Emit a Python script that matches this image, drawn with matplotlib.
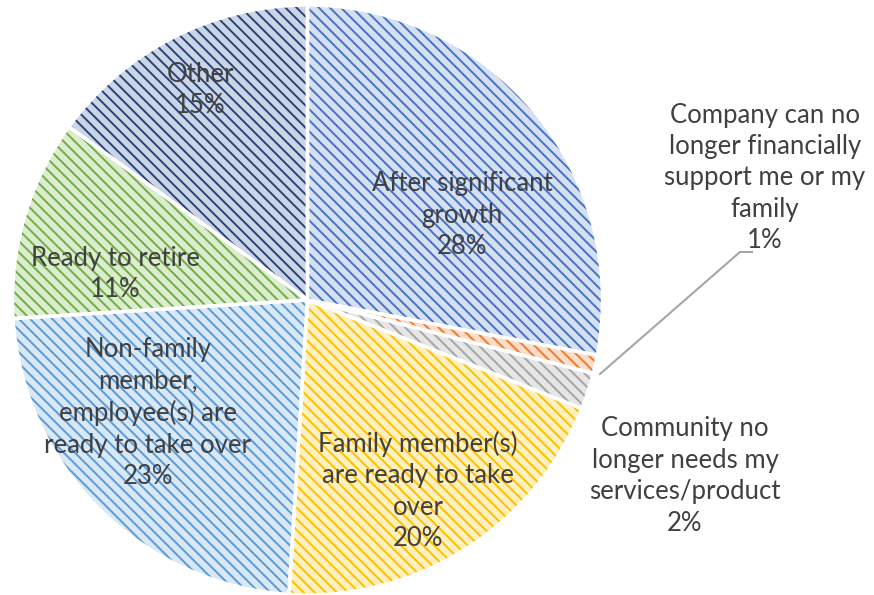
import matplotlib
matplotlib.use("Agg")
import matplotlib.pyplot as plt

# Reasons for planning an exit from the business
labels = [
    "After significant\ngrowth",
    "Company can no\nlonger financially\nsupport me or my\nfamily",
    "Community no\nlonger needs my\nservices/product",
    "Family member(s)\nare ready to take\nover",
    "Non-family\nmember,\nemployee(s) are\nready to take over",
    "Ready to retire",
    "Other",
]
shares = [28, 1, 2, 20, 23, 11, 15]

hatch_colors = ["#4472c4", "#ed7d31", "#a5a5a5", "#ffc000", "#5b9bd5", "#70ad47", "#264478"]
fill_colors = ["#d6e0f3", "#fbdcc8", "#e6e6e6", "#fff0c0", "#d8e8f6", "#dbeccf", "#ccd5e6"]

# label anchor points in figure pixels (x from left, y from top)
label_xy = [
    (462, 215),
    (765, 178),
    (685, 476),
    (418, 491),
    (148, 413),
    (115, 274),
    (200, 90),
]

W, H = 874, 595
plt.rcParams["hatch.linewidth"] = 1.4
plt.rcParams["font.family"] = ["Lato", "DejaVu Sans"]

fig = plt.figure(figsize=(W / 100, H / 100), dpi=100)
ax = fig.add_axes([0, 0, 1, 1])

center = (307.5, H - 300)
radius = 295

# hatched fill layer
wedges, _ = ax.pie(shares, startangle=90, counterclock=False, center=center,
                   radius=radius, colors=fill_colors, frame=True)
for w, hc in zip(wedges, hatch_colors):
    w.set_hatch("\\\\\\")
    w.set_edgecolor(hc)
    w.set_linewidth(0)

# white separators on top
ax.pie(shares, startangle=90, counterclock=False, center=center, radius=radius,
       colors=["none"] * len(shares), frame=True,
       wedgeprops=dict(edgecolor="white", linewidth=2.5, fill=False))
ax.set_xlim(0, W)
ax.set_ylim(0, H)
ax.set_aspect("equal")
ax.axis("off")

text_color = "#404040"
for lab, val, (x, y) in zip(labels, shares, label_xy):
    ax.text(x, H - y, f"{lab}\n{val}%", ha="center", va="center",
            fontsize=18.5, color=text_color, linespacing=1.32)

# leader line for the smallest slice
ax.plot([600, 740, 752], [H - 374, H - 252, H - 252], color="#a6a6a6", lw=1.5)

fig.savefig("out.png", dpi=100)
